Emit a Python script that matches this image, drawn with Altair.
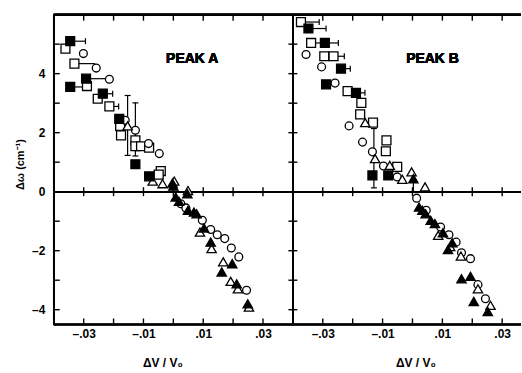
import altair as alt
import pandas as pd

FONT = "Liberation Sans"

# ---------------- data: PEAK A ----------------
A_FSQ_X = [-0.0345, -0.0292, -0.0345, -0.0236, -0.0181, -0.0127, -0.0081]
A_FSQ_Y = [5.10, 3.83, 3.55, 3.32, 2.47, 0.93, 0.52]
A_OSQ_X = [-0.0361, -0.0331, -0.0289, -0.0253, -0.0214, -0.0178, -0.0175, -0.0127, -0.0127, -0.0108, -0.0081, -0.0042, -0.0049]
A_OSQ_Y = [4.85, 4.34, 3.58, 3.15, 2.89, 2.23, 1.91, 1.74, 1.54, 1.54, 1.49, 0.70, 0.58]
A_OC_X = [-0.0301, -0.0258, -0.0214, -0.0161, -0.0127, -0.0083, -0.0047, 0.0025, 0.0042, 0.0097, 0.0125, 0.0147, 0.0172, 0.0194, 0.0219, 0.0245]
A_OC_Y = [4.68, 4.19, 3.81, 2.42, 2.08, 1.63, 1.29, -0.41, -0.55, -0.97, -1.28, -1.46, -1.59, -1.91, -2.21, -3.34]
A_OT_X = [-0.0153, -0.0069, -0.0036, 0.0003, 0.0049, 0.0089, 0.0128, 0.0167, 0.0192, 0.0216, 0.0253]
A_OT_Y = [2.23, 0.36, 0.27, 0.36, 0.04, -1.37, -1.93, -2.38, -3.04, -3.29, -3.91]
A_FT_X = [-0.0003, 0.0000, 0.0047, 0.0008, 0.0019, 0.0049, 0.0069, 0.0078, 0.0103, 0.0125, 0.0197, 0.0162, 0.0212, 0.0249]
A_FT_Y = [0.29, 0.19, -0.07, -0.18, -0.33, -0.63, -0.69, -0.75, -1.23, -1.71, -2.44, -2.72, -3.12, -3.80]
A_HB_X1 = [-0.0345, -0.0331, -0.0292, -0.0345, -0.0236, -0.0214]
A_HB_X2 = [-0.0294, -0.0262, -0.0218, -0.0289, -0.0203, -0.0183]
A_HB_Y = [5.10, 4.34, 3.83, 3.55, 3.32, 2.89]
A_HB_CAP = [1, 0, 0, 0, 1, 1]
A_VB_X = [-0.0153, -0.0127]
A_VB_Y1 = [1.23, 1.21]
A_VB_Y2 = [3.26, 3.01]
A_VB_CAP = [1, 1]

# ---------------- data: PEAK B ----------------
B_OSQ_X = [-0.0373, -0.0339, -0.0295, -0.0264, -0.0217, -0.0171, -0.0175, -0.0132, -0.0087, -0.0089, -0.0051]
B_OSQ_Y = [5.75, 5.04, 4.59, 4.59, 3.41, 3.01, 2.62, 2.34, 1.74, 1.37, 0.84]
B_FSQ_X = [-0.0348, -0.0293, -0.0239, -0.0289, -0.0189, -0.0134, -0.0081]
B_FSQ_Y = [5.53, 5.04, 4.17, 3.64, 3.35, 0.55, 0.55]
B_OC_X = [-0.0356, -0.0304, -0.0259, -0.0212, -0.0167, -0.0134, -0.0097, -0.0051, 0.0014, 0.0046, 0.0094, 0.0122, 0.0146, 0.0164, 0.0194, 0.0219, 0.0244]
B_OC_Y = [4.65, 4.23, 3.68, 2.23, 1.68, 1.35, 0.87, 0.50, -0.22, -0.63, -1.20, -1.46, -1.71, -2.07, -2.27, -3.15, -3.63]
B_OT_X = [-0.0158, -0.0125, -0.0076, -0.0034, -0.0003, 0.0042, 0.0086, 0.0126, 0.0162, 0.0219, 0.0261]
B_OT_Y = [2.34, 1.12, 0.89, 0.42, 0.67, 0.16, -1.48, -1.86, -2.18, -3.29, -3.85]
B_FT_X = [0.0003, 0.0022, 0.0033, 0.0044, 0.0061, 0.0075, 0.0102, 0.0133, 0.0119, 0.0164, 0.0194, 0.0205, 0.0252]
B_FT_Y = [0.44, -0.52, -0.63, -0.75, -0.97, -1.08, -1.39, -1.73, -1.96, -2.95, -2.87, -3.72, -4.06]
B_HB_X1 = [-0.0373, -0.0348, -0.0339, -0.0293, -0.0264, -0.0239, -0.0189]
B_HB_X2 = [-0.0312, -0.0289, -0.0293, -0.0248, -0.0228, -0.0208, -0.0159]
B_HB_Y = [5.75, 5.53, 5.04, 5.04, 4.59, 4.17, 3.35]
B_HB_CAP = [1, 1, 0, 1, 1, 1, 1]
B_VB_X = [-0.0129, 0.0003]
B_VB_Y1 = [0.13, 0.0]
B_VB_Y2 = [2.14, 0.44]
B_VB_CAP = [1, 0]

# ---------------- axes ----------------
X_TICKS = [-0.03, -0.02, -0.01, 0.0, 0.01, 0.02, 0.03]
X_LABELS = [-0.03, -0.01, 0.01, 0.03]
Y_TICKS = [-4, -3, -2, -1, 1, 2, 3, 4, 5]
Y_LABELS = [-4, -2, 0, 2, 4]
Y_DOM = [-4.5, 6]
XA_DOM = [-0.04, 0.04]
XB_DOM = [-0.04, 0.0363]


def df(**cols):
    return pd.DataFrame(cols)


def panel(series, hb, vb, xdom, width, show_y, title_x, label, label_x):
    xs = alt.Scale(domain=xdom, nice=False, zero=False)
    ys = alt.Scale(domain=Y_DOM, nice=False, zero=False)
    xaxis = alt.Axis(
        values=X_LABELS,
        labelExpr="replace(replace(format(datum.value, '.2f'), '0.', '.'), '\u2212', '\u2013')",
        ticks=False, domain=False, grid=False,
        labelFont=FONT, labelFontSize=12, labelFontWeight="bold", labelColor="black",
        labelPadding=4,
        title="ΔV / V₀", titleFont=FONT, titleFontSize=12, titleFontWeight="bold",
        titleColor="black", titleX=title_x, titleY=38, titleBaseline="middle",
    )
    if show_y:
        yaxis = alt.Axis(
            values=Y_LABELS, ticks=False, domain=False, grid=False,
            labelExpr="replace(format(datum.value, 'd'), '\u2212', '\u2013')",
            labelFont=FONT, labelFontSize=12, labelFontWeight="bold", labelColor="black",
            labelPadding=9,
            title="Δω (cm⁻¹)", titleFont=FONT, titleFontSize=11, titleFontWeight="bold",
            titleColor="black", titleX=-33, titleY=150, titleBaseline="middle",
        )
    else:
        yaxis = None

    def X(f="x:Q"):
        return alt.X(f, scale=xs, axis=xaxis)

    def Y(f="y:Q"):
        return alt.Y(f, scale=ys, axis=yaxis)

    def XD(v):
        return alt.XDatum(v, scale=xs, axis=xaxis)

    def YD(v):
        return alt.YDatum(v, scale=ys, axis=yaxis)

    layers = []
    xt = df(x=X_TICKS)
    yt = df(y=Y_TICKS)
    # frame and zero line
    for v in (Y_DOM[1], Y_DOM[0], 0):
        layers.append(alt.Chart(xt).mark_rule(color="black", strokeWidth=1.6).encode(y=YD(v)))
    layers.append(alt.Chart(yt).mark_rule(color="black", strokeWidth=1.6).encode(x=XD(xdom[0])))
    # ticks
    layers.append(alt.Chart(xt).mark_tick(orient="vertical", size=6, thickness=1.4, yOffset=3, color="black", opacity=1).encode(x=X(), y=YD(Y_DOM[1])))
    layers.append(alt.Chart(xt).mark_tick(orient="vertical", size=6, thickness=1.4, yOffset=-3, color="black", opacity=1).encode(x=X(), y=YD(Y_DOM[0])))
    layers.append(alt.Chart(xt).mark_tick(orient="vertical", size=9, thickness=1.4, color="black", opacity=1).encode(x=X(), y=YD(0)))
    if show_y:
        layers.append(alt.Chart(yt).mark_tick(orient="horizontal", size=6, thickness=1.4, xOffset=3, color="black", opacity=1).encode(x=XD(xdom[0]), y=Y()))
    else:
        layers.append(alt.Chart(yt).mark_tick(orient="horizontal", size=9, thickness=1.4, color="black", opacity=1).encode(x=XD(xdom[0]), y=Y()))
    # error bars
    hbd = df(x=hb[0], x2=hb[1], y=hb[2], cap=hb[3])
    layers.append(alt.Chart(hbd).mark_rule(color="black", strokeWidth=1.2).encode(x=X(), x2="x2:Q", y=Y()))
    layers.append(alt.Chart(hbd).transform_filter("datum.cap == 1").mark_tick(orient="vertical", size=6, thickness=1.2, color="black", opacity=1).encode(x=X("x2:Q"), y=Y()))
    vbd = df(x=vb[0], y=vb[1], y2=vb[2], cap=vb[3])
    layers.append(alt.Chart(vbd).mark_rule(color="black", strokeWidth=1.2).encode(x=X(), y=Y(), y2="y2:Q"))
    layers.append(alt.Chart(vbd).transform_filter("datum.cap == 1").mark_tick(orient="horizontal", size=6, thickness=1.2, color="black", opacity=1).encode(x=X(), y=Y()))
    layers.append(alt.Chart(vbd).transform_filter("datum.cap == 1").mark_tick(orient="horizontal", size=6, thickness=1.2, color="black", opacity=1).encode(x=X(), y=Y("y2:Q")))
    # symbols
    for (xv, yv, shape, fill, size) in series:
        layers.append(
            alt.Chart(df(x=xv, y=yv)).mark_point(
                shape=shape, filled=True, fill=fill, stroke="black", strokeWidth=1.3,
                size=size, opacity=1,
            ).encode(x=X(), y=Y())
        )
    layers.append(
        alt.Chart(xt).mark_text(font=FONT, fontSize=14, fontWeight="bold", color="black")
        .encode(x=XD(label_x), y=YD(4.5), text=alt.value(label))
    )
    return alt.layer(*layers).properties(width=width, height=311)


SQ, CI, TR = 80, 62, 88
series_a = [
    (A_OSQ_X, A_OSQ_Y, "square", "white", SQ),
    (A_OC_X, A_OC_Y, "circle", "white", CI),
    (A_OT_X, A_OT_Y, "triangle-up", "white", TR),
    (A_FSQ_X, A_FSQ_Y, "square", "black", SQ),
    (A_FT_X, A_FT_Y, "triangle-up", "black", TR),
]
series_b = [
    (B_OSQ_X, B_OSQ_Y, "square", "white", SQ),
    (B_OC_X, B_OC_Y, "circle", "white", CI),
    (B_OT_X, B_OT_Y, "triangle-up", "white", TR),
    (B_FSQ_X, B_FSQ_Y, "square", "black", SQ),
    (B_FT_X, B_FT_Y, "triangle-up", "black", TR),
]

pa = panel(series_a, (A_HB_X1, A_HB_X2, A_HB_Y, A_HB_CAP), (A_VB_X, A_VB_Y1, A_VB_Y2, A_VB_CAP),
           XA_DOM, 240, True, 109, "PEAK  A", 0.0063)
pb = panel(series_b, (B_HB_X1, B_HB_X2, B_HB_Y, B_HB_CAP), (B_VB_X, B_VB_Y1, B_VB_Y2, B_VB_CAP),
           XB_DOM, 229, False, 123, "PEAK  B", 0.0067)

chart = (
    alt.hconcat(pa, pb, spacing=0, bounds="flush")
    .properties(padding={"left": 15, "top": 13, "right": 0, "bottom": 0}, background="white")
    .configure_view(stroke=None)
)
chart.save("out.html", embed_options={"renderer": "svg", "actions": False})
